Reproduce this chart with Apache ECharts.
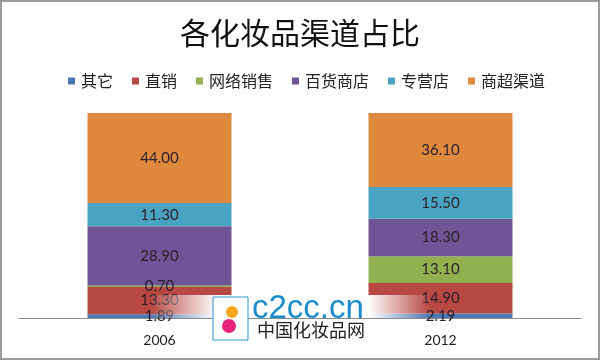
<!DOCTYPE html>
<html>
<head>
<meta charset="utf-8">
<script src="https://cdn.jsdelivr.net/npm/echarts@6/dist/echarts.min.js"></script>
<style>html,body{margin:0;padding:0;background:#fff}#c{width:600px;height:361px}</style>
</head>
<body>
<div id="c"></div>
<script>
var categories = ['2006', '2012'];
var seriesNames = ['其它', '直销', '网络销售', '百货商店', '专营店', '商超渠道'];
var other = [1.89, 2.19];
var direct = [13.30, 14.90];
var online = [0.70, 13.10];
var deptStore = [28.90, 18.30];
var specialty = [11.30, 15.50];
var supermarket = [44.00, 36.10];
var colors = ['#4a78b4', '#b74843', '#93b051', '#6e5596', '#4aa3c0', '#df893f'];

var values = [other, direct, online, deptStore, specialty, supermarket];
var chart = echarts.init(document.getElementById('c'));
var cjk = '"Noto Sans CJK SC", sans-serif';
chart.setOption({
  animation: false,
  backgroundColor: '#fff',
  color: colors,
  title: {
    text: '各化妆品渠道占比',
    left: 'center', top: 13,
    textStyle: { fontFamily: cjk, fontSize: 30, fontWeight: 'normal', color: '#111' }
  },
  legend: {
    top: 68, left: 63,
    itemWidth: 7, itemHeight: 7, itemGap: 19,
    icon: 'rect',
    textStyle: { fontFamily: cjk, fontSize: 16, color: '#222', padding: [0, 0, 0, 1] },
    data: seriesNames
  },
  grid: { left: 19, right: 19, top: 113, bottom: 43 },
  xAxis: {
    type: 'category', data: categories,
    axisLine: { lineStyle: { color: '#8a8a8a', width: 1 } },
    axisTick: { show: false },
    axisLabel: { fontFamily: 'Lato, sans-serif', fontSize: 14, color: '#222', margin: 15 }
  },
  yAxis: { type: 'value', min: 0, max: 'dataMax', show: false, splitLine: { show: false } },
  series: seriesNames.map(function (n, i) {
    return {
      name: n, type: 'bar', stack: 'total', barWidth: 144,
      data: values[i],
      itemStyle: { color: colors[i] },
      label: {
        show: true, position: 'inside',
        formatter: function (p) { return p.value.toFixed(2); },
        fontFamily: 'Lato, sans-serif', fontSize: 15, color: '#2a1f2a'
      }
    };
  }),
  graphic: [
    { type: 'rect', z: 10, shape: { x: 150, y: 295, width: 280, height: 23 },
      style: { fill: new echarts.graphic.LinearGradient(0, 0, 1, 0, [
        { offset: 0, color: 'rgba(255,255,255,0)' },
        { offset: 0.24, color: 'rgba(255,255,255,1)' },
        { offset: 0.78, color: 'rgba(255,255,255,1)' },
        { offset: 1, color: 'rgba(255,255,255,0)' }]) } },
    { type: 'rect', z: 11, shape: { x: 213, y: 297, width: 35, height: 43 },
      style: { fill: '#fff', stroke: '#2a9ad6', lineWidth: 1 } },
    { type: 'circle', z: 12, shape: { cx: 232, cy: 312, r: 6 }, style: { fill: '#f4a81c' } },
    { type: 'circle', z: 12, shape: { cx: 229, cy: 326, r: 7 }, style: { fill: '#e8247a' } },
    { type: 'text', z: 12, style: { x: 252, y: 292, text: 'c2cc.cn', fill: '#1a8ccc',
      font: '33px "Liberation Sans", Arial, sans-serif' } },
    { type: 'text', z: 12, style: { x: 257, y: 321, text: '中国化妆品网', fill: '#222',
      font: '18px "Noto Sans CJK SC", sans-serif' } },
    { type: 'rect', z: 20, shape: { x: 1, y: 1, width: 598, height: 358 },
      style: { fill: 'none', stroke: '#9a9a9a', lineWidth: 2 } }
  ]
});
</script>
</body>
</html>
